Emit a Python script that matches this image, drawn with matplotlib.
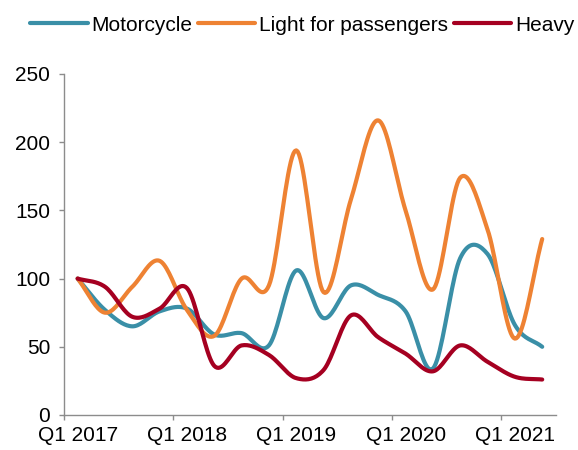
import matplotlib.pyplot as plt
import numpy as np

# quarterly index values, Q1 2017 .. Q2 2021
quarters = ["Q1 2017", "Q2 2017", "Q3 2017", "Q4 2017",
            "Q1 2018", "Q2 2018", "Q3 2018", "Q4 2018",
            "Q1 2019", "Q2 2019", "Q3 2019", "Q4 2019",
            "Q1 2020", "Q2 2020", "Q3 2020", "Q4 2020",
            "Q1 2021", "Q2 2021"]

motorcycle = [100, 77, 65, 76, 78, 59, 60, 51, 106, 71, 95, 88, 76, 34, 115, 118, 66, 50]
light = [100, 75, 94, 113, 77, 58, 100, 95, 194, 90, 158, 216, 150, 92, 174, 136, 56, 129]
heavy = [100, 94, 72, 78, 93, 36, 51, 44, 27, 33, 73, 57, 45, 32, 51, 39, 28, 26]

tick_labels = ["Q1 2017", "Q1 2018", "Q1 2019", "Q1 2020", "Q1 2021"]

colors = ["#3A8FA7", "#EE8233", "#A50021"]
names = ["Motorcycle", "Light for passengers", "Heavy"]


def smooth(y, n=20):
    # Catmull-Rom curve through the points, like a spreadsheet "smoothed line"
    y = np.asarray(y, dtype=float)
    x = np.arange(len(y), dtype=float)
    px = np.concatenate([[2 * x[0] - x[1]], x, [2 * x[-1] - x[-2]]])
    py = np.concatenate([[2 * y[0] - y[1]], y, [2 * y[-1] - y[-2]]])
    xs, ys = [], []
    t = np.linspace(0, 1, n, endpoint=False)
    for i in range(1, len(px) - 2):
        for p, out in ((px, xs), (py, ys)):
            p0, p1, p2, p3 = p[i - 1], p[i], p[i + 1], p[i + 2]
            out.extend(0.5 * (2 * p1 + (-p0 + p2) * t
                              + (2 * p0 - 5 * p1 + 4 * p2 - p3) * t ** 2
                              + (-p0 + 3 * p1 - 3 * p2 + p3) * t ** 3))
    xs.append(x[-1])
    ys.append(y[-1])
    return np.array(xs), np.array(ys)


plt.rcParams["font.family"] = ["Liberation Sans", "DejaVu Sans"]
plt.rcParams["font.size"] = 15

fig = plt.figure(figsize=(5.78, 4.5), dpi=100)
ax = fig.add_axes([0.1107, 0.0778, 0.851, 0.7578])

for series, color, name in zip([motorcycle, light, heavy], colors, names):
    sx, sy = smooth(series)
    ax.plot(sx, sy, color=color, lw=3, label=name, solid_capstyle="round")

ax.set_xlim(-0.5, len(quarters) - 0.5)
ax.set_ylim(0, 250)
ax.set_yticks(range(0, 251, 50))

# tick marks sit between categories, labels sit under the first quarter of each year
label_pos = [quarters.index(q) for q in tick_labels]
ax.set_xticks([p - 0.5 for p in label_pos])
ax.set_xticklabels([])
ax.set_xticks(label_pos, minor=True)
ax.set_xticklabels(tick_labels, minor=True)

for side in ["top", "right"]:
    ax.spines[side].set_visible(False)
for side in ["left", "bottom"]:
    ax.spines[side].set_color("#8C8C8C")
    ax.spines[side].set_linewidth(1)
ax.tick_params(axis="both", colors="#8C8C8C", labelcolor="black",
               length=3.8, width=1, direction="out")
ax.tick_params(axis="y", pad=6)
ax.tick_params(axis="x", which="minor", length=0, pad=8)

fig.legend(loc="upper center", bbox_to_anchor=(0.523, 1.0), ncol=3,
           frameon=False, handlelength=2.75, handletextpad=0.2,
           columnspacing=0.25, borderaxespad=0.35)

fig.savefig("out.png", dpi=100)
